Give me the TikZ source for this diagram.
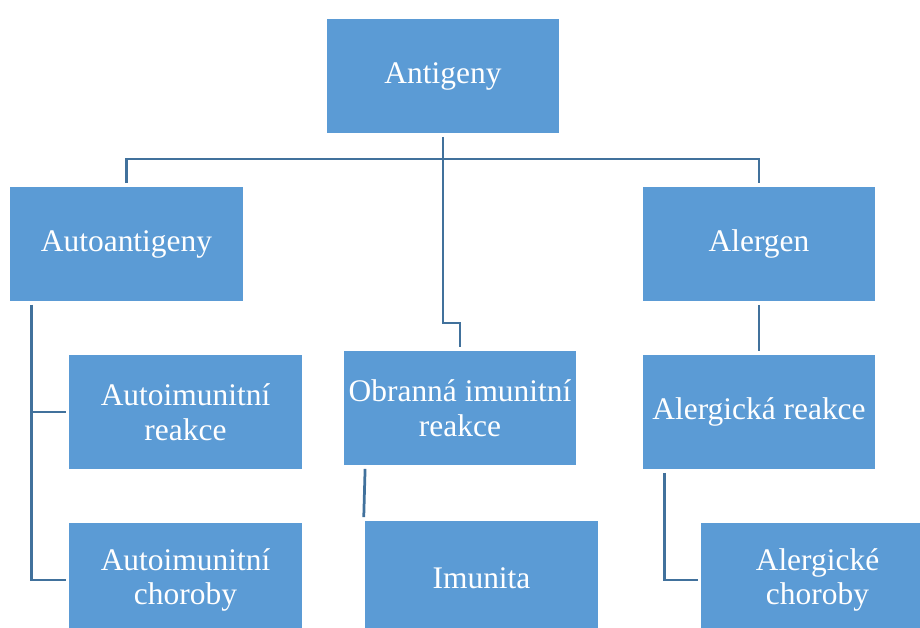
\documentclass[tikz,border=0pt]{standalone}
\usepackage{fontspec}
\setmainfont{Liberation Serif}
\usetikzlibrary{calc}
\definecolor{boxblue}{HTML}{5B9BD5}
\definecolor{lineblue}{HTML}{41719C}

\begin{document}
\begin{tikzpicture}[x=0.02cm,y=-0.02cm,
  box/.style={fill=boxblue,text=white,minimum width=4.66cm,minimum height=2.3cm,
    inner sep=0pt,align=center,font=\fontsize{17.9}{19.8}\selectfont},
  link/.style={draw=lineblue,line width=0.055cm,shorten <=0.06cm,shorten >=0.06cm}]
  \clip (0,0) rectangle (920,628);
  % top level
  \node[box] (ant) at (443,76) {Antigeny};
  \node[box] (auto) at (126.5,244) {Autoantigeny};
  \node[box] (alerg) at (759,244) {Alergen};
  % middle row
  \node[box] (autoreak) at (185.5,412) {Autoimunitní\\reakce};
  \node[box] (obr) at (460,408) {Obranná imunitní\\reakce};
  \node[box] (alreak) at (759,412) {Alergická reakce};
  % bottom row
  \node[box] (autochor) at (185.5,580) {Autoimunitní\\choroby};
  \node[box] (imun) at (481.5,578) {Imunita};
  \node[box] (alchor) at (817.5,580) {Alergické\\choroby};
  % connectors
  \coordinate (hub) at (443,159);
  \coordinate (obrbend) at (443,323);
  \draw[link,shorten >=0pt] (ant.south) -- (hub);
  \draw[link] (auto.north) |- (hub) -| (alerg.north);
  \draw[link,shorten <=0pt] (hub) -- (obrbend) -| (obr.north);
  \draw[link] ([xshift=0.44cm]auto.south west) |- (autoreak.west);
  \draw[link] ([xshift=0.44cm]auto.south west) |- (autochor.west);
  \draw[link] ([xshift=0.44cm]obr.south west) -- ([xshift=-0.02cm]imun.north west);
  \draw[link] (alerg.south) -- (alreak.north);
  \draw[link] ([xshift=0.44cm]alreak.south west) |- (alchor.west);
\end{tikzpicture}
\end{document}
